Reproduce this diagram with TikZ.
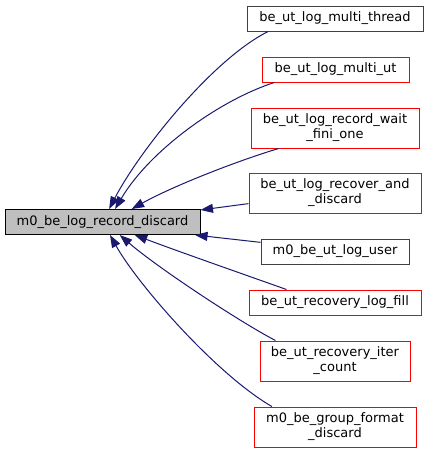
\documentclass[tikz,border=0pt]{standalone}
\usepackage{fontspec}
\setmainfont{DejaVu Sans}
\usetikzlibrary{arrows.meta}

\begin{document}
\begin{tikzpicture}[x=1pt, y=-1pt,
    funcBox/.style={rectangle, draw, line width=1pt, inner sep=0pt, align=center,
        font=\fontsize{13}{15}\selectfont, minimum height=25pt},
    twoLine/.style={minimum height=40pt},
    mainBox/.style={funcBox, draw=black, fill=fillGrey},
    docBox/.style={funcBox, draw=borderDark, fill=white},
    noDocBox/.style={funcBox, draw=borderRed, fill=white},
    callEdge/.style={draw=edgeBlue, line width=1pt,
        -{Triangle[length=12.5pt, width=9pt, fill=edgeBlue]}}]

    \definecolor{fillGrey}{HTML}{BFBFBF}
    \definecolor{borderDark}{HTML}{404040}
    \definecolor{borderRed}{HTML}{FF0000}
    \definecolor{edgeBlue}{HTML}{191970}

    % Fix the page size
    \useasboundingbox (0,0) rectangle (428,453);

    % Draw the called function
    \node[mainBox, minimum width=195pt] (discard) at (102.5,222) {m0\_be\_log\_record\_discard};

    % Draw the callers
    \node[docBox, minimum width=176pt] (multiThread) at (335,18.5) {be\_ut\_log\_multi\_thread};
    \node[noDocBox, minimum width=147pt] (multiUt) at (335.5,69.5) {be\_ut\_log\_multi\_ut};
    \node[noDocBox, twoLine, minimum width=168pt] (waitFini) at (335,128) {be\_ut\_log\_record\_wait\\\_fini\_one};
    \node[noDocBox, twoLine, minimum width=172pt] (recoverDiscard) at (335,193) {be\_ut\_log\_recover\_and\\\_discard};
    \node[docBox, minimum width=148pt] (logUser) at (335,251.5) {m0\_be\_ut\_log\_user};
    \node[noDocBox, minimum width=172pt] (logFill) at (335,302.5) {be\_ut\_recovery\_log\_fill};
    \node[noDocBox, twoLine, minimum width=150pt] (iterCount) at (335,361) {be\_ut\_recovery\_iter\\\_count};
    \node[noDocBox, twoLine, minimum width=162pt] (groupFormat) at (335,427) {m0\_be\_group\_format\\\_discard};

    % Draw the call edges
    \draw[callEdge] (multiThread.191) .. controls (213,59) and (140,150) .. (discard.63);
    \draw[callEdge] (multiUt.192) .. controls (220,100) and (150,150) .. (discard.46);
    \draw[callEdge] (waitFini.200) .. controls (240,160) and (175,185) .. (discard.24);
    \draw[callEdge] (recoverDiscard.187) -- (discard.7);
    \draw[callEdge] (logUser.173) -- (discard.-8);
    \draw[callEdge] (logFill.165) .. controls (240,273) and (180,252) .. (discard.-22);
    \draw[callEdge] (iterCount.161) .. controls (240,322) and (158,268) .. (discard.-37);
    \draw[callEdge] (groupFormat.162) .. controls (217,375) and (138,285) .. (discard.-60);

\end{tikzpicture}
\end{document}
